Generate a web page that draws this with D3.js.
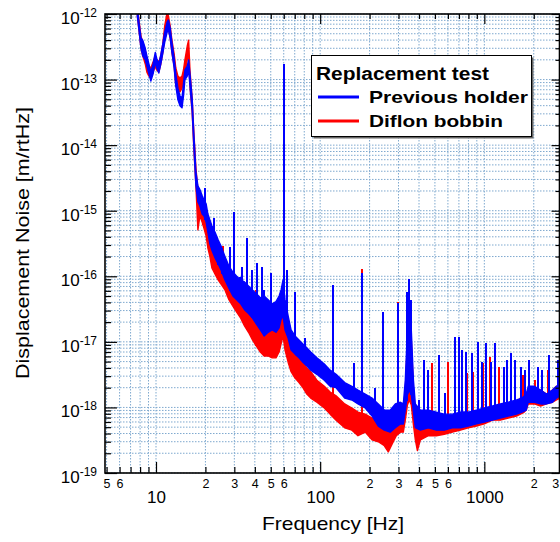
<!DOCTYPE html>
<html>
<head>
<meta charset="utf-8">
<script src="https://cdn.jsdelivr.net/npm/d3@7"></script>
<style>
  body { margin: 0; background: #fff; }
  svg { font-family: Arial, "Liberation Sans", Helvetica, sans-serif; }
</style>
</head>
<body>
<div class="canvas"></div>
<script>
// ---- data (Hz, m/rtHz) ----
// each trace is a dense noisy band: lower / upper edge of the band
const blueFreq = [7.7, 7.9, 8.1, 8.3, 8.6, 8.8, 9.05, 9.3, 9.6, 9.9,
  10.1, 10.4, 10.7, 11.0, 11.3, 11.7, 11.9, 12.2, 12.5, 12.9,
  13.2, 13.6, 14.0, 14.4, 14.7, 15.0, 15.5, 15.8, 16.1, 16.6,
  17.0, 17.5,
  18.0, 18.5, 19.1, 19.6, 20.2, 20.7, 21.3, 21.9, 22.9, 23.9,
  24.9, 26.3, 27.8, 29.4, 31.0, 32.8, 34.6, 36.6, 38.7, 40.9,
  43.2, 45.6, 48.2, 51.0, 53.8, 56.2, 57.8, 59.4, 61.1, 63.8,
  66.5, 70.3, 74.3, 78.5, 82.9, 87.6, 95.5, 106, 115, 125,
  141, 156, 170, 188, 207, 226, 246, 267, 287, 308,
  321, 330, 340, 349, 359, 370, 380, 408, 456, 510,
  570, 638, 715, 799, 894, 1000, 1120, 1250, 1400, 1570,
  1700, 1800, 1850, 2020, 2200, 2390, 2600, 2750, 2900];
const blueHi = [1.23e-12, 7.0e-13, 4.3e-13, 4.0e-13, 3.0e-13, 2.3e-13, 1.73e-13, 1.3e-13, 1.73e-13, 2.6e-13,
  2.1e-13, 1.73e-13, 2.4e-13, 3.5e-13, 5.3e-13, 7.6e-13, 8.1e-13, 6.1e-13, 3.7e-13, 2.1e-13,
  1.22e-13, 7.4e-14, 5.6e-14, 5.2e-14, 8.6e-14, 1.4e-13, 1.6e-13, 2.0e-13, 1.22e-13, 5.2e-14,
  1.5e-14, 3.9e-15,
  2.4e-15, 2.1e-15, 1.7e-15, 1.46e-15, 1.27e-15, 8.9e-16, 7.2e-16, 5.9e-16, 4.7e-16, 3.6e-16,
  2.9e-16, 2.0e-16, 1.43e-16, 1.16e-16, 1.0e-16, 8.8e-17, 8.2e-17, 7.1e-17, 6.2e-17, 5.4e-17,
  4.7e-17, 5.0e-17, 4.4e-17, 3.8e-17, 4.1e-17, 5.0e-17, 6.2e-17, 8.8e-17, 4.4e-17, 2.5e-17,
  1.52e-17, 1.23e-17, 1.07e-17, 9.3e-18, 8.1e-18, 7.0e-18, 5.7e-18, 4.6e-18, 3.7e-18, 3.2e-18,
  2.4e-18, 2.1e-18, 1.84e-18, 1.6e-18, 1.39e-18, 1.13e-18, 9.1e-19, 9.1e-19, 1.13e-18, 1.2e-18,
  1.13e-18, 2.6e-18, 1.52e-17, 3.1e-17, 1.52e-17, 2.6e-18, 1.13e-18, 9.1e-19, 9.1e-19, 8.5e-19,
  7.9e-19, 7.9e-19, 8.5e-19, 8.5e-19, 9.1e-19, 9.8e-19, 1.05e-18, 1.13e-18, 1.2e-18, 1.3e-18,
  1.39e-18, 1.6e-18, 2.1e-18, 2.1e-18, 1.84e-18, 1.6e-18, 1.84e-18, 2.1e-18, 2.3e-18];
const blueLo = [9.3e-13, 5.3e-13, 3.0e-13, 2.3e-13, 2.0e-13, 1.6e-13, 1.22e-13, 9.5e-14, 1.22e-13, 1.85e-13,
  1.5e-13, 1.26e-13, 1.73e-13, 2.5e-13, 3.7e-13, 5.3e-13, 5.7e-13, 4.3e-13, 2.6e-13, 1.5e-13,
  8.0e-14, 4.9e-14, 4.0e-14, 3.7e-14, 5.6e-14, 9.85e-14, 1.13e-13, 1.4e-13, 8.0e-14, 3.4e-14,
  9.7e-15, 2.4e-15,
  1.36e-15, 1.18e-15, 8.9e-16, 8.3e-16, 6.7e-16, 4.7e-16, 3.1e-16, 2.5e-16, 1.9e-16, 1.54e-16,
  1.25e-16, 8.8e-17, 6.6e-17, 5.0e-17, 4.4e-17, 3.8e-17, 3.1e-17, 2.7e-17, 2.3e-17, 1.87e-17,
  1.52e-17, 1.23e-17, 1.4e-17, 1.52e-17, 1.4e-17, 1.63e-17, 2.2e-17, 2.5e-17, 1.52e-17, 1.14e-17,
  7.5e-18, 6.5e-18, 5.7e-18, 4.9e-18, 4.3e-18, 3.7e-18, 3.2e-18, 2.6e-18, 2.1e-18, 2.0e-18,
  1.39e-18, 1.3e-18, 1.13e-18, 9.8e-19, 7.4e-19, 5.2e-19, 4.5e-19, 4.2e-19, 4.9e-19, 5.6e-19,
  5.6e-19, 9.1e-19, 1.55e-18, 1.84e-18, 1.55e-18, 8.5e-19, 4.9e-19, 4.5e-19, 4.9e-19, 4.5e-19,
  4.5e-19, 4.9e-19, 4.9e-19, 5.2e-19, 5.6e-19, 6.0e-19, 6.4e-19, 6.9e-19, 7.4e-19, 7.9e-19,
  8.5e-19, 9.1e-19, 1.2e-18, 1.2e-18, 1.13e-18, 1.13e-18, 1.2e-18, 1.39e-18, 1.5e-18];

const redFreq = [7.7, 7.9, 8.1, 8.3, 8.6, 8.8, 9.05, 9.3, 9.6, 9.9,
  10.1, 10.4, 10.7, 11.0, 11.3, 11.7, 11.9, 12.2, 12.5, 12.9,
  13.2, 13.6, 14.0, 14.4, 14.7, 15.0, 15.5, 15.8, 16.1, 16.6,
  17.0, 17.5,
  18.0, 18.5, 19.1, 19.6, 20.2, 20.7, 21.3, 21.9, 22.9,
  23.9, 24.9, 26.3, 27.8, 29.4, 31.0, 32.8, 34.6, 36.6, 38.7,
  40.9, 43.2, 45.6, 48.2, 51.0, 53.8, 56.2, 57.8, 59.4, 61.1,
  63.8, 66.5, 70.3, 74.3, 78.5, 82.9, 87.6, 95.5, 106, 115,
  125, 141, 156, 170, 188, 207, 226, 246, 260, 275,
  291, 308, 321, 330, 340, 349, 359, 370, 380, 391,
  408, 456, 510, 570, 638, 715, 799, 894, 1000, 1120,
  1250, 1400, 1570, 1660, 1750, 1800, 1850, 2020, 2200, 2390,
  2600, 2750, 2900];
const redHi = [1.23e-12, 7.6e-13, 4.6e-13, 3.7e-13, 2.8e-13, 2.0e-13, 1.6e-13, 1.5e-13, 1.85e-13, 2.3e-13,
  2.0e-13, 1.85e-13, 2.3e-13, 3.5e-13, 6.6e-13, 1.07e-12, 9.3e-13, 6.6e-13, 4.0e-13, 2.45e-13,
  1.5e-13, 1.13e-13, 1.06e-13, 1.13e-13, 1.4e-13, 2.0e-13, 3.25e-13, 4.0e-13, 1.4e-13, 5.2e-14,
  1.59e-14, 4.5e-15,
  2.1e-15, 1.7e-15, 1.27e-15, 1.1e-15, 8.9e-16, 6.7e-16, 5.1e-16, 3.8e-16, 3.1e-16,
  2.35e-16, 1.9e-16, 1.25e-16, 9.4e-17, 7.6e-17, 6.2e-17, 5.0e-17, 4.4e-17, 3.5e-17, 2.85e-17,
  2.3e-17, 2.0e-17, 1.87e-17, 1.75e-17, 1.52e-17, 1.4e-17, 1.63e-17, 2.3e-17, 4.4e-17, 2.2e-17,
  1.23e-17, 8.6e-18, 7.0e-18, 6.1e-18, 4.9e-18, 4.0e-18, 3.5e-18, 2.6e-18, 2.1e-18, 1.72e-18,
  1.5e-18, 1.13e-18, 9.8e-19, 8.5e-19, 7.9e-19, 6.9e-19, 6.4e-19, 6.4e-19, 5.6e-19, 6.0e-19,
  6.9e-19, 7.9e-19, 8.5e-19, 1.84e-18, 1.07e-17, 1.52e-17, 1.07e-17, 1.84e-18, 6.9e-19, 5.6e-19,
  6.4e-19, 6.4e-19, 6.4e-19, 6.9e-19, 6.9e-19, 7.4e-19, 7.9e-19, 8.5e-19, 9.1e-19, 9.8e-19,
  1.05e-18, 1.13e-18, 1.2e-18, 1.39e-18, 1.5e-18, 1.6e-18, 1.84e-18, 1.84e-18, 1.84e-18, 1.6e-18,
  1.84e-18, 2.1e-18, 2.1e-18];
const redLo = [9.3e-13, 5.3e-13, 3.0e-13, 2.3e-13, 1.73e-13, 1.3e-13, 1.13e-13, 1.06e-13, 1.3e-13, 1.6e-13,
  1.4e-13, 1.3e-13, 1.73e-13, 2.6e-13, 4.3e-13, 6.6e-13, 6.1e-13, 4.3e-13, 2.6e-13, 1.6e-13,
  8.0e-14, 6.9e-14, 6.5e-14, 7.4e-14, 9.2e-14, 1.22e-13, 2.0e-13, 2.45e-13, 8.0e-14, 3.2e-14,
  9.0e-15, 2.4e-15,
  5.1e-16, 8.3e-16, 6.7e-16, 5.4e-16, 4.1e-16, 2.7e-16, 2.0e-16, 1.34e-16, 1.08e-16,
  8.8e-17, 7.6e-17, 6.2e-17, 4.4e-17, 3.5e-17, 2.85e-17, 2.3e-17, 1.75e-17, 1.4e-17, 1.07e-17,
  8.6e-18, 7.0e-18, 6.1e-18, 6.1e-18, 5.7e-18, 5.7e-18, 7.0e-18, 9.3e-18, 1.23e-17, 7.5e-18,
  4.9e-18, 3.5e-18, 2.8e-18, 2.4e-18, 2.0e-18, 1.6e-18, 1.39e-18, 1.2e-18, 9.8e-19, 7.9e-19,
  6.4e-19, 4.9e-19, 4.5e-19, 3.7e-19, 4.2e-19, 3.2e-19, 3.0e-19, 2.6e-19, 2.1e-19, 2.8e-19,
  3.7e-19, 4.2e-19, 4.2e-19, 6.4e-19, 1.09e-18, 1.3e-18, 1.09e-18, 5.4e-19, 3.2e-19, 2.2e-19,
  3.2e-19, 3.7e-19, 3.7e-19, 3.9e-19, 4.2e-19, 4.5e-19, 4.9e-19, 5.2e-19, 5.6e-19, 6.4e-19,
  6.4e-19, 6.9e-19, 7.4e-19, 7.9e-19, 8.5e-19, 9.1e-19, 1.13e-18, 1.13e-18, 1.05e-18, 1.13e-18,
  1.2e-18, 1.3e-18, 1.39e-18];

// narrow lines (power line harmonics etc.) sticking out of the bands
const blueSpikeFreq = [20.0, 22.4, 24.0, 25.4, 28.3, 30, 32.5, 33.3, 35.8, 38.4,
  41.1, 44.1, 45.6, 50, 60, 62.9, 70.5, 81.1, 120, 160,
  180, 216, 240, 300, 336, 349, 359, 402, 427, 454,
  527, 573, 667, 697, 731, 777, 841, 910, 968, 1024,
  1103, 1167, 1311, 1376, 1461, 1545, 1681, 1761, 1881, 2125,
  2249, 2492, 2800];
const blueSpikeTop = [2.2e-15, 7.7e-16, 2.5e-16, 2.7e-16, 2.8e-16, 9.6e-16, 9.7e-17, 1.39e-16, 3.8e-16, 1.25e-16,
  1.6e-16, 1.39e-16, 6.2e-17, 1.12e-16, 1.73e-13, 1.25e-16, 5.8e-17, 1.14e-17, 7.4e-17, 4.8e-18,
  1.14e-16, 2.0e-18, 2.85e-17, 3.9e-17, 5.8e-17, 9.1e-17, 4.4e-17, 1.3e-18, 5.3e-18, 3.7e-18,
  6.3e-18, 1.66e-18, 1.19e-17, 1.19e-17, 7.5e-18, 7.0e-18, 6.7e-18, 9.9e-18, 4.9e-18, 9.6e-18,
  4.9e-18, 9.6e-18, 4.1e-18, 5.3e-18, 6.8e-18, 5.3e-18, 4.1e-18, 3.7e-18, 5.3e-18, 4.1e-18,
  3.7e-18, 6.3e-18, 5.3e-18];
const redSpikeFreq = [19.3, 25.6, 30, 35.9, 40.9, 60, 120, 180, 240, 300,
  480, 600, 784, 849, 976, 1088, 1222, 1545, 1722, 2026,
  2249, 2433, 2810];
const redSpikeTop = [1.18e-15, 2.9e-16, 3.6e-16, 1.65e-16, 6.2e-17, 3.4e-14, 6.2e-17, 1.29e-16, 2.3e-17, 4.1e-17,
  4.8e-18, 4.9e-18, 3.4e-18, 3.5e-18, 4.8e-18, 5.9e-18, 4.1e-18, 4.1e-18, 3.1e-18, 2.6e-18,
  3.4e-18, 3.7e-18, 4.8e-18];

// axis labels
const yDecades = [1e-19, 1e-18, 1e-17, 1e-16, 1e-15, 1e-14, 1e-13, 1e-12];
const xMajorLabels = [10, 100, 1000];
const xMinorLabels = [5, 6, 20, 30, 40, 50, 60, 200, 300, 400, 500, 600, 2000, 3000];

const series = [
  { name: 'Diflon bobbin', color: '#ff0000', freq: redFreq, lo: redLo, hi: redHi, spikeF: redSpikeFreq, spikeTop: redSpikeTop },
  { name: 'Previous holder', color: '#0000ff', freq: blueFreq, lo: blueLo, hi: blueHi, spikeF: blueSpikeFreq, spikeTop: blueSpikeTop }
];

// ---- layout ----
const margin = { top: 14, right: 0.5, bottom: 69, left: 105 };
const graphWidth = 560 - margin.left - margin.right;
const graphHeight = 542 - margin.top - margin.bottom;

const svg = d3.select('.canvas')
  .append('svg')
  .attr('width', 560)
  .attr('height', 542);

const graph = svg.append('g')
  .attr('transform', `translate(${margin.left}, ${margin.top})`);

// scales
const x = d3.scaleLog().domain([4.89, 2870]).range([0, graphWidth]);
const y = d3.scaleLog().domain([1e-19, 1e-12]).range([graphHeight, 0]);

svg.append('defs').append('clipPath').attr('id', 'plot-clip')
  .append('rect').attr('width', graphWidth).attr('height', graphHeight);

// dotted grid
const gridColor = '#7fa9cf';
graph.append('g').attr('class', 'grid-x')
  .selectAll('line').data(x.ticks()).join('line')
  .attr('x1', d => x(d)).attr('x2', d => x(d))
  .attr('y1', 0).attr('y2', graphHeight)
  .attr('stroke', gridColor).attr('stroke-width', 1).attr('stroke-dasharray', '1.5,1.5');
graph.append('g').attr('class', 'grid-y')
  .selectAll('line').data(y.ticks()).join('line')
  .attr('x1', 0).attr('x2', graphWidth)
  .attr('y1', d => y(d)).attr('y2', d => y(d))
  .attr('stroke', gridColor).attr('stroke-width', 1).attr('stroke-dasharray', '1.5,1.5');

// traces
const area = d3.area()
  .x(d => x(d.f))
  .y0(d => y(d.lo))
  .y1(d => y(d.hi));

// band bottom at a given frequency (log-log), used as the foot of each spike
const bandAt = (freqs, vals, f) => {
  const i = d3.bisectLeft(freqs, f);
  if (i <= 0) return vals[0];
  if (i >= freqs.length) return vals[vals.length - 1];
  const t = (Math.log(f) - Math.log(freqs[i - 1])) / (Math.log(freqs[i]) - Math.log(freqs[i - 1]));
  return Math.exp(Math.log(vals[i - 1]) + t * (Math.log(vals[i]) - Math.log(vals[i - 1])));
};

const traces = graph.append('g').attr('clip-path', 'url(#plot-clip)');
series.forEach(s => {
  const band = s.freq.map((f, i) => ({ f, lo: s.lo[i], hi: s.hi[i] }));
  traces.append('path')
    .datum(band)
    .attr('d', area)
    .attr('fill', s.color)
    .attr('stroke', s.color)
    .attr('stroke-width', 1.4)
    .attr('stroke-linejoin', 'round');
  traces.append('g')
    .selectAll('line')
    .data(s.spikeF.map((f, i) => ({ f, top: s.spikeTop[i], base: bandAt(s.freq, s.lo, f) })))
    .join('line')
    .attr('x1', d => Math.round(x(d.f))).attr('x2', d => Math.round(x(d.f)))
    .attr('y1', d => y(d.top)).attr('y2', d => y(d.base))
    .attr('stroke', s.color)
    .attr('stroke-width', 2)
    .attr('shape-rendering', 'crispEdges');
});

// axes: ticks point inwards on all four sides
const styleAxis = g => {
  g.select('.domain').remove();
  g.selectAll('line').attr('stroke', '#000').attr('stroke-width', 1.2);
};
const xMinor = x.ticks().filter(d => !xMajorLabels.includes(d));
const yMinor = y.ticks().filter(d => !yDecades.includes(d));

// bottom
graph.append('g').attr('transform', `translate(0, ${graphHeight})`)
  .call(d3.axisBottom(x).tickValues(xMinor).tickSize(-6).tickFormat(''))
  .call(styleAxis);
graph.append('g').attr('transform', `translate(0, ${graphHeight})`)
  .call(d3.axisBottom(x).tickValues(xMajorLabels).tickSize(-11).tickFormat(d3.format('d')))
  .call(styleAxis)
  .call(g => g.selectAll('text').attr('y', 30).attr('dy', 0)
    .attr('font-size', 17).attr('fill', '#000'));
// the 3000 label sits at the window edge in the original, nudge it inside
graph.append('g').attr('transform', `translate(0, ${graphHeight})`)
  .call(d3.axisBottom(x).tickValues(xMinorLabels).tickSize(0).tickFormat(d => String(d).charAt(0)))
  .call(styleAxis)
  .call(g => g.selectAll('text').attr('y', 14.5).attr('dy', 0)
    .attr('font-size', 12.5).attr('fill', '#000')
    .attr('dx', d => d === 3000 ? -7.5 : 0));
// top
graph.append('g')
  .call(d3.axisTop(x).tickValues(xMinor).tickSize(-5).tickFormat(''))
  .call(styleAxis);
graph.append('g')
  .call(d3.axisTop(x).tickValues(xMajorLabels).tickSize(-10).tickFormat(''))
  .call(styleAxis);
// left
graph.append('g')
  .call(d3.axisLeft(y).tickValues(yMinor).tickSize(-6).tickFormat(''))
  .call(styleAxis);
graph.append('g')
  .call(d3.axisLeft(y).tickValues(yDecades).tickSize(-12).tickPadding(8).tickFormat(''))
  .call(styleAxis)
  .call(g => g.selectAll('text').each(function(d) {
    const t = d3.select(this).attr('dy', 0).attr('y', 9.5).attr('fill', '#000');
    t.append('tspan').attr('font-size', 17).text('10');
    t.append('tspan').attr('font-size', 12).attr('dy', -7)
      .text('-' + Math.round(-Math.log10(d)));
  }));
// right
graph.append('g').attr('transform', `translate(${graphWidth}, 0)`)
  .call(d3.axisRight(y).tickValues(yMinor).tickSize(-4).tickFormat(''))
  .call(styleAxis);
graph.append('g').attr('transform', `translate(${graphWidth}, 0)`)
  .call(d3.axisRight(y).tickValues(yDecades).tickSize(-8).tickFormat(''))
  .call(styleAxis);

// frame
graph.append('rect')
  .attr('width', graphWidth).attr('height', graphHeight)
  .attr('fill', 'none').attr('stroke', '#000').attr('stroke-width', 1.6);

// axis titles
svg.append('text')
  .attr('x', 333).attr('y', 530)
  .attr('text-anchor', 'middle')
  .attr('font-size', 19)
  .attr('textLength', 142).attr('lengthAdjust', 'spacingAndGlyphs')
  .text('Frequency [Hz]');
svg.append('text')
  .attr('transform', 'translate(29, 243) rotate(-90)')
  .attr('text-anchor', 'middle')
  .attr('font-size', 19)
  .attr('textLength', 272).attr('lengthAdjust', 'spacingAndGlyphs')
  .text('Displacement Noise [m/rtHz]');

// legend
const legend = svg.append('g').attr('class', 'legend');
legend.append('rect')
  .attr('x', 313.5).attr('y', 57.5).attr('width', 220).attr('height', 81)
  .attr('fill', '#666');
legend.append('rect')
  .attr('x', 311.5).attr('y', 55.5).attr('width', 220).attr('height', 81)
  .attr('fill', '#fff').attr('stroke', '#000').attr('stroke-width', 1);
legend.append('text')
  .attr('x', 316).attr('y', 79.5)
  .attr('font-size', 17.5).attr('font-weight', 'bold')
  .attr('textLength', 173).attr('lengthAdjust', 'spacingAndGlyphs')
  .text('Replacement test');
const entries = [series[1], series[0]];
const entryWidths = [159, 134];
entries.forEach((s, i) => {
  const cy = 97 + i * 24;
  legend.append('line')
    .attr('x1', 318).attr('x2', 359).attr('y1', cy).attr('y2', cy)
    .attr('stroke', s.color).attr('stroke-width', 3);
  legend.append('text')
    .attr('x', 369).attr('y', cy + 6.3)
    .attr('font-size', 16.5).attr('font-weight', 'bold')
    .attr('textLength', entryWidths[i]).attr('lengthAdjust', 'spacingAndGlyphs')
    .text(s.name);
});
</script>
</body>
</html>
